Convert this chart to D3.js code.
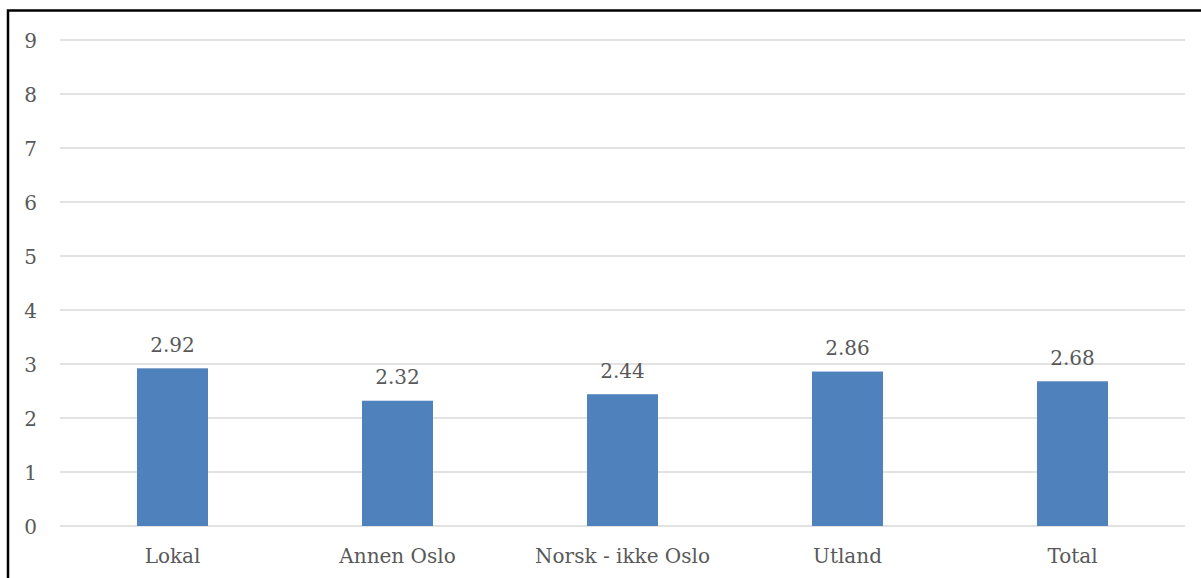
<!DOCTYPE html>
<html>
<head>
<meta charset="utf-8">
<script src="https://cdn.jsdelivr.net/npm/d3@7"></script>
<style>
  html, body { margin: 0; padding: 0; background: #fff; }
  svg { display: block; }
  text { font-family: "DejaVu Serif", serif; fill: #595959; }
</style>
</head>
<body>
<svg id="chart" width="1201" height="578"></svg>
<script>
const categories = ["Lokal", "Annen Oslo", "Norsk - ikke Oslo", "Utland", "Total"];
const values = [2.92, 2.32, 2.44, 2.86, 2.68];
const yTicks = [0, 1, 2, 3, 4, 5, 6, 7, 8, 9];

const W = 1201, H = 578;
const plot = { left: 60, right: 1185, top: 40, bottom: 526 };
const svg = d3.select("#chart");

// chart border
svg.append("path")
  .attr("d", `M8,${H + 2} L8,10.5 L${W + 2},10.5`)
  .attr("fill", "none")
  .attr("stroke", "#000")
  .attr("stroke-width", 2.5);

const x = d3.scaleBand().domain(categories).range([plot.left, plot.right]).paddingInner(0).paddingOuter(0);
const y = d3.scaleLinear().domain([0, 9]).range([plot.bottom, plot.top]);

// gridlines
svg.append("g").selectAll("line").data(yTicks).join("line")
  .attr("x1", plot.left).attr("x2", plot.right)
  .attr("y1", d => y(d)).attr("y2", d => y(d))
  .attr("stroke", "#d9d9d9").attr("stroke-width", 1.6);

// y axis labels
const yAxis = d3.axisLeft(y).tickValues(yTicks).tickSize(0).tickPadding(0).tickFormat(d3.format("d"));
const gy = svg.append("g").attr("transform", `translate(${37},0)`).call(yAxis);
gy.select(".domain").remove();
gy.selectAll("text").style("font-size", "20px").attr("fill", "#595959").attr("dy", "0.35em")
  .style("font-family", "DejaVu Serif, serif");

// bars
const barW = 71;
svg.append("g").selectAll("rect").data(values).join("rect")
  .attr("x", (d, i) => x(categories[i]) + x.bandwidth() / 2 - barW / 2)
  .attr("width", barW)
  .attr("y", d => y(d))
  .attr("height", d => y(0) - y(d))
  .attr("fill", "#4f81bd");

// value labels
svg.append("g").selectAll("text").data(values).join("text")
  .attr("x", (d, i) => x(categories[i]) + x.bandwidth() / 2)
  .attr("y", d => y(d) - 16.5)
  .attr("text-anchor", "middle")
  .style("font-size", "20px")
  .text(d => d.toFixed(2));

// x axis labels
const xAxis = d3.axisBottom(x).tickSize(0).tickPadding(0);
const gx = svg.append("g").attr("transform", `translate(0,${plot.bottom})`).call(xAxis);
gx.select(".domain").remove();
gx.selectAll("text").style("font-size", "20px").attr("fill", "#595959")
  .style("font-family", "DejaVu Serif, serif")
  .attr("y", 37).attr("dy", 0);
</script>
</body>
</html>
